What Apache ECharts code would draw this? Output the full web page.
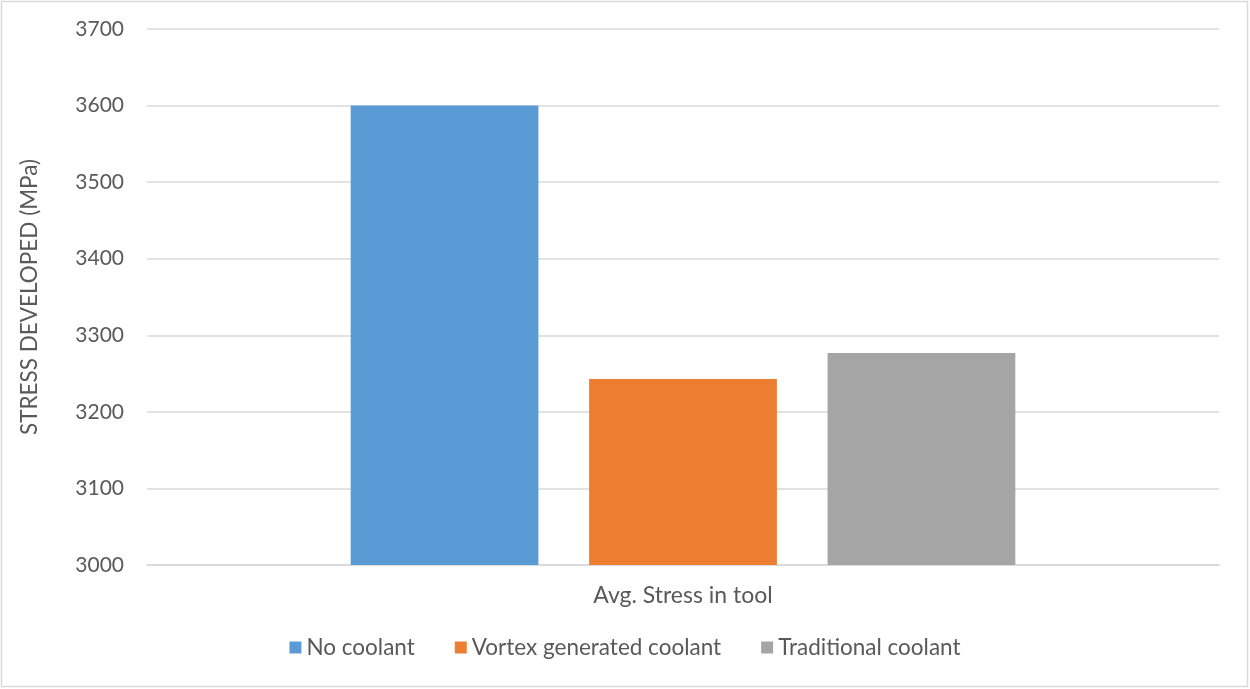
<!DOCTYPE html>
<html>
<head>
<meta charset="utf-8">
<script src="https://cdn.jsdelivr.net/npm/echarts@6/dist/echarts.min.js"></script>
<style>
html,body{margin:0;padding:0;background:#fff;}
#c{width:1250px;height:689px;}
</style>
</head>
<body>
<div id="c"></div>
<script>
const categories = ["Avg. Stress in tool"];
const seriesNames = ["No coolant", "Vortex generated coolant", "Traditional coolant"];
const noCoolant = [3600];
const vortexCoolant = [3243];
const traditionalCoolant = [3277];
const colors = ["#5b9bd5", "#ed7d31", "#a5a5a5"];
const yAxisName = "STRESS DEVELOPED (MPa)";

const FONT = "Lato";
const TXT = "#595959";
const chart = echarts.init(document.getElementById('c'), null, {renderer: 'canvas'});
const values = [noCoolant, vortexCoolant, traditionalCoolant];
chart.setOption({
  animation: false,
  textStyle: {fontFamily: FONT},
  graphic: [{
    type: 'rect', shape: {x: 1.5, y: 1.5, width: 1246, height: 685},
    style: {fill: 'none', stroke: '#d9d9d9', lineWidth: 1.5}, silent: true
  }],
  grid: {left: 147, right: 31, top: 29, bottom: 124},
  legend: {
    bottom: 25, left: 'center', itemWidth: 12, itemHeight: 12, itemGap: 40,
    icon: 'rect',
    textStyle: {color: TXT, fontSize: 22.5, fontFamily: FONT},
    data: seriesNames
  },
  xAxis: {
    type: 'category', data: categories,
    axisLine: {lineStyle: {color: '#d9d9d9', width: 1.5}},
    axisTick: {show: false},
    axisLabel: {color: TXT, fontSize: 23, margin: 19, fontFamily: FONT}
  },
  yAxis: {
    type: 'value', min: 3000, max: 3700, interval: 100,
    name: yAxisName, nameLocation: 'middle', nameGap: 106,
    nameTextStyle: {color: TXT, fontSize: 22.5, fontFamily: FONT},
    axisLine: {show: false}, axisTick: {show: false},
    axisLabel: {color: TXT, fontSize: 21, margin: 23, fontFamily: FONT,
      formatter: v => String(v)},
    splitLine: {lineStyle: {color: '#d9d9d9', width: 1.5}}
  },
  series: seriesNames.map((n, i) => ({
    name: n, type: 'bar', data: values[i],
    itemStyle: {color: colors[i]},
    barGap: '27%', barCategoryGap: '38%'
  }))
});
</script>
</body>
</html>
